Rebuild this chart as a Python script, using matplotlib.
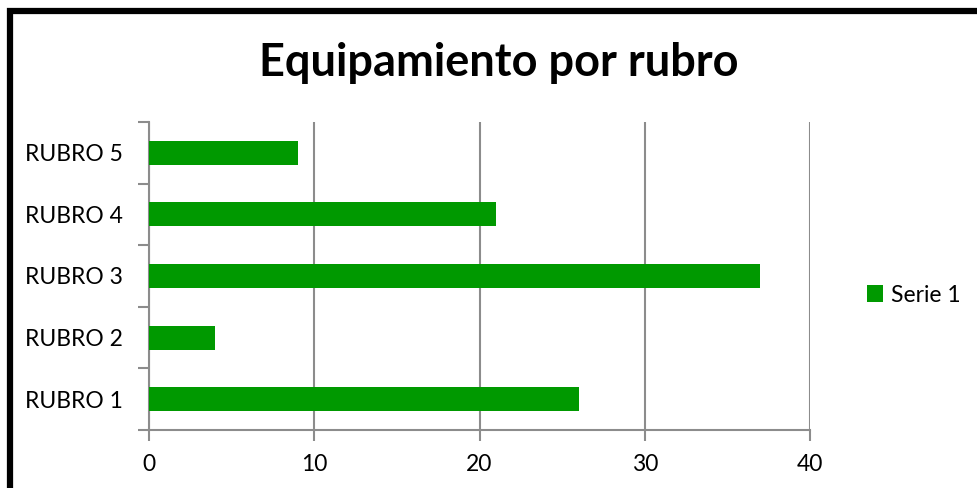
import matplotlib.pyplot as plt
from matplotlib.patches import Rectangle

# Datos del gráfico
rubros = ['RUBRO 1', 'RUBRO 2', 'RUBRO 3', 'RUBRO 4', 'RUBRO 5']
valores = [26, 4, 37, 21, 9]
serie = 'Serie 1'
titulo = 'Equipamiento por rubro'
x_ticks = [0, 10, 20, 30, 40]

plt.rcParams['font.family'] = ['Lato', 'DejaVu Sans']

W, H = 978, 488
fig = plt.figure(figsize=(W / 100, H / 100), dpi=100)

# Marco negro grueso
fig.patches.append(Rectangle((9.5 / W, -0.1), 1.2, 1 - 10.5 / H + 0.1,
                             transform=fig.transFigure, fill=False,
                             edgecolor='black', linewidth=4.5))

ax = fig.add_axes([149 / W, 1 - 430 / H, (810 - 149) / W, (430 - 122) / H])

gris = '#8c8c8c'
verde = '#009900'

pos = list(range(len(rubros)))
ax.barh(pos, valores, height=0.39, color=verde, label=serie, zorder=3)

ax.set_xlim(0, 40)
ax.set_ylim(-0.5, len(rubros) - 0.5)
ax.set_xticks(x_ticks)
ax.set_xticklabels([str(t) for t in x_ticks])
ax.set_yticks(pos)
ax.set_yticklabels(rubros)
ax.set_yticks([p - 0.5 for p in pos] + [len(rubros) - 0.5], minor=True)

ax.grid(axis='x', color=gris, linewidth=1.5, zorder=0)
ax.tick_params(axis='y', which='major', length=0, pad=18.5, labelsize=16.5)
ax.tick_params(axis='y', which='minor', length=8, width=1.5, color=gris)
ax.tick_params(axis='x', length=8, width=1.5, color=gris, labelsize=16.5, pad=9)

for s in ['top', 'right']:
    ax.spines[s].set_visible(False)
for s in ['left', 'bottom']:
    ax.spines[s].set_color(gris)
    ax.spines[s].set_linewidth(1.5)

fig.text(499 / W, 1 - 63 / H, titulo, ha='center', va='center',
         fontsize=32.5, fontweight='bold')

leg = ax.legend(loc='center left', bbox_to_anchor=(846 / W, 1 - 295 / H),
                bbox_transform=fig.transFigure, frameon=False, fontsize=16.5,
                handlelength=0.7, handleheight=0.7, handletextpad=0.35)

fig.savefig('out.png', dpi=100)
